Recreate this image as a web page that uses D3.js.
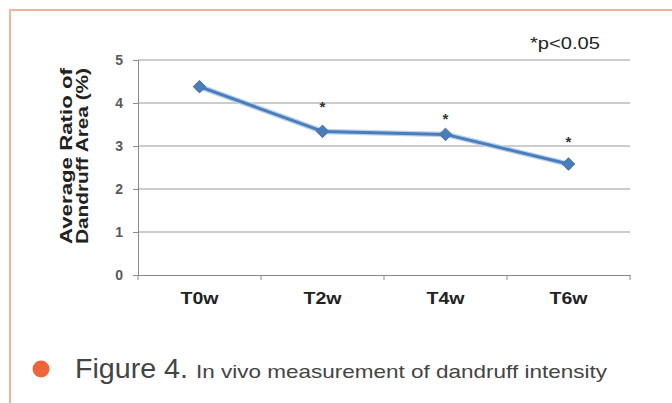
<!DOCTYPE html>
<html>
<head>
<meta charset="utf-8">
<script src="https://cdn.jsdelivr.net/npm/d3@7"></script>
<style>
  html, body { margin: 0; padding: 0; background: #fff; }
  svg { display: block; font-family: "Liberation Sans", Arial, sans-serif; }
</style>
</head>
<body>
<svg id="chart" width="672" height="403"></svg>
<script>
// data
const weeks = ["T0w", "T2w", "T4w", "T6w"];
const dandruffRatio = [4.38, 3.34, 3.27, 2.58];
// height at which the significance mark sits (null = none)
const starLevel = [null, 4.0, 3.73, 3.19];
const yTicks = [0, 1, 2, 3, 4, 5];

const svg = d3.select("#chart");
const margin = { top: 60, right: 42, bottom: 128, left: 138 };
const width = 672, height = 403;

const x = d3.scaleBand()
  .domain(weeks)
  .range([margin.left, width - margin.right])
  .padding(0);

const y = d3.scaleLinear()
  .domain([0, 5])
  .range([height - margin.bottom, margin.top]);

// frame (top + left edges visible)
svg.append("path")
  .attr("d", `M10,${height} L10,10 L${width},10`)
  .attr("fill", "none")
  .attr("stroke", "#f2b49c")
  .attr("stroke-width", 2);

// gridlines
svg.append("g")
  .selectAll("line")
  .data(yTicks.filter(d => d > 0))
  .join("line")
  .attr("x1", margin.left)
  .attr("x2", width - margin.right)
  .attr("y1", d => y(d))
  .attr("y2", d => y(d))
  .attr("stroke", "#9a9a9a")
  .attr("stroke-width", 1);

// y axis
const yAxis = svg.append("g")
  .attr("transform", `translate(${margin.left},0)`)
  .call(d3.axisLeft(y).tickValues(yTicks).tickSize(5).tickPadding(10).tickFormat(d3.format("d")));
yAxis.select(".domain").attr("stroke", "#8a8a8a");
yAxis.selectAll(".tick line").attr("stroke", "#8a8a8a");
yAxis.selectAll("text")
  .attr("fill", "#5a5a5a")
  .attr("font-size", 14)
  .attr("font-weight", "bold")
  .attr("font-family", "Liberation Sans, Arial, sans-serif");

// x axis (labels only, boundary ticks below)
const xAxis = svg.append("g")
  .attr("transform", `translate(0,${y(0)})`)
  .call(d3.axisBottom(x).tickSize(0).tickPadding(18));
xAxis.select(".domain").attr("stroke", "#8a8a8a");
xAxis.selectAll("text")
  .attr("fill", "#222")
  .attr("font-size", 16)
  .attr("font-weight", "bold")
  .attr("font-family", "Liberation Sans, Arial, sans-serif")
  .attr("textLength", 38)
  .attr("lengthAdjust", "spacingAndGlyphs");

const bounds = weeks.map(w => x(w)).concat([x(weeks[weeks.length - 1]) + x.bandwidth()]);
svg.append("g")
  .selectAll("line")
  .data(bounds)
  .join("line")
  .attr("x1", d => d)
  .attr("x2", d => d)
  .attr("y1", y(0))
  .attr("y2", y(0) + 5)
  .attr("stroke", "#8a8a8a");

// y title
const title = svg.append("g")
  .attr("transform", `translate(0,156) rotate(-90)`);
title.selectAll("text")
  .data(["Average Ratio of", "Dandruff Area (%)"])
  .join("text")
  .attr("x", 0)
  .attr("y", (d, i) => 66 + i * 16)
  .attr("text-anchor", "middle")
  .attr("dominant-baseline", "central")
  .attr("font-size", 17)
  .attr("font-weight", "bold")
  .attr("fill", "#222")
  .attr("textLength", 176)
  .attr("lengthAdjust", "spacingAndGlyphs")
  .text(d => d);

// series
const pts = weeks.map((w, i) => ({ w, v: dandruffRatio[i], s: starLevel[i] }));
const cx = d => x(d.w) + x.bandwidth() / 2;

const line = d3.line().x(cx).y(d => y(d.v));
svg.append("path")
  .datum(pts)
  .attr("d", line)
  .attr("fill", "none")
  .attr("stroke", "#b9d0ec")
  .attr("stroke-width", 5.5)
  .attr("stroke-linejoin", "round");
svg.append("path")
  .datum(pts)
  .attr("d", line)
  .attr("fill", "none")
  .attr("stroke", "#4a7ebb")
  .attr("stroke-width", 3)
  .attr("stroke-linejoin", "round");

svg.append("g")
  .selectAll("path")
  .data(pts)
  .join("path")
  .attr("transform", d => `translate(${cx(d)},${y(d.v)})`)
  .attr("d", d3.symbol(d3.symbolDiamond2, 100))
  .attr("fill", "#4a7ebb")
  .attr("stroke", "#3f6fa8")
  .attr("stroke-width", 1);

// significance marks
svg.append("g")
  .selectAll("text")
  .data(pts.filter(d => d.s != null))
  .join("text")
  .attr("x", cx)
  .attr("y", d => y(d.s) + 9)
  .attr("text-anchor", "middle")
  .attr("font-size", 15)
  .attr("font-weight", "bold")
  .attr("fill", "#333")
  .text("*");

svg.append("text")
  .attr("x", 530)
  .attr("y", 49)
  .attr("font-size", 16)
  .attr("fill", "#222")
  .attr("textLength", 70)
  .attr("lengthAdjust", "spacingAndGlyphs")
  .text("*p<0.05");

// caption
svg.append("circle")
  .attr("cx", 41)
  .attr("cy", 369)
  .attr("r", 8.5)
  .attr("fill", "#f0643a");

svg.append("text")
  .attr("x", 75)
  .attr("y", 378)
  .attr("font-size", 27)
  .attr("fill", "#444")
  .attr("textLength", 113)
  .attr("lengthAdjust", "spacingAndGlyphs")
  .text("Figure 4.");

svg.append("text")
  .attr("x", 196)
  .attr("y", 378)
  .attr("font-size", 19)
  .attr("fill", "#444")
  .attr("textLength", 411)
  .attr("lengthAdjust", "spacingAndGlyphs")
  .text("In vivo measurement of dandruff intensity");
</script>
</body>
</html>
